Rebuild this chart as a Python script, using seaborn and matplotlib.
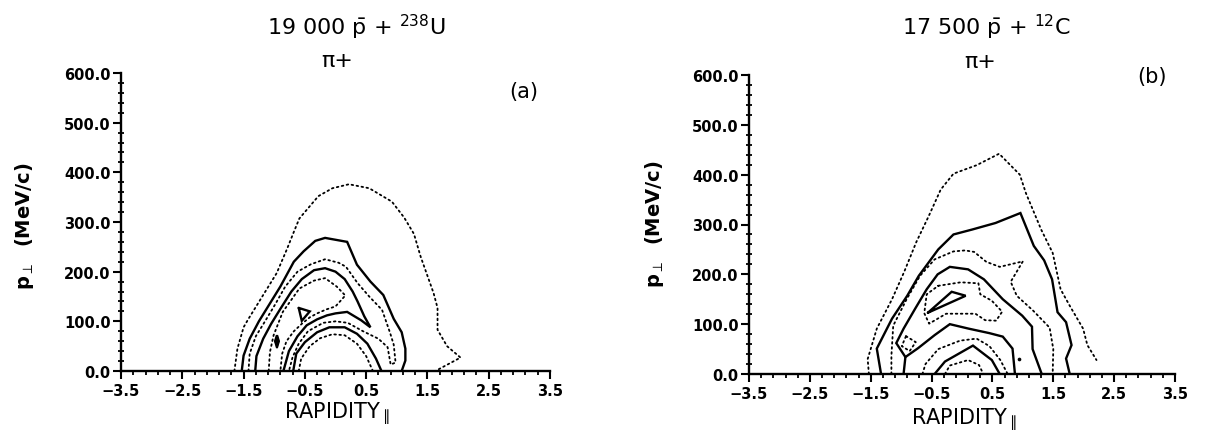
import numpy as np
import matplotlib
matplotlib.use("Agg")
import matplotlib.pyplot as plt
import seaborn as sns
from matplotlib.ticker import FixedLocator, MultipleLocator

# ---------------- data ----------------
x_ticks = [-3.5, -2.5, -1.5, -0.5, 0.5, 1.5, 2.5, 3.5]
x_ticklabels = ["\u22123.5", "\u22122.5", "\u22121.5", "\u22120.5", "0.5", "1.5", "2.5", "3.5"]
y_ticks = [0, 100, 200, 300, 400, 500, 600]
y_ticklabels = ["0.0", "100.0", "200.0", "300.0", "400.0", "500.0", "600.0"]

# panel (a): 19000 pbar + 238U, pi+
a1_x = [-1.65, -1.60, -1.50, -1.43, -1.17, -0.96, -0.79, -0.68, -0.59, -0.28, -0.05, 0.22, 0.55, 0.92, 1.12, 1.28, 1.39, 1.60, 1.665, 1.665, 1.82, 2.04, 1.63]
a1_y = [0, 45, 88, 103, 155, 197, 246, 280, 307, 352, 368, 376, 368, 341, 309, 276, 230, 157, 127, 83, 50, 27, 0]
a2_x = [-1.53, -1.50, -1.40, -1.25, -1.05, -0.90, -0.68, -0.52, -0.33, -0.17, 0.19, 0.35, 0.57, 0.78, 0.95, 1.08, 1.14, 1.14, 1.08]
a2_y = [0, 31, 65, 100, 140, 170, 220, 241, 262, 268, 260, 214, 180, 153, 105, 78, 45, 21, 0]
a3_x = [-1.42, -1.40, -1.30, -1.15, -0.98, -0.82, -0.62, -0.40, -0.17, 0.05, 0.17, 0.36, 0.55, 0.76, 0.89, 0.95, 0.98, 0.90, 0.85, 0.70, 0.45, 0.20, 0.00, -0.20, -0.45, -0.60, -0.70, -0.76]
a3_y = [0, 35, 70, 100, 135, 170, 200, 215, 225, 218, 210, 177, 150, 123, 77, 53, 17, 13, 48, 65, 80, 97, 100, 97, 80, 55, 28, 0]
a4_x = [-1.31, -1.29, -1.18, -1.05, -0.90, -0.72, -0.55, -0.35, -0.17, 0.00, 0.15, 0.28, 0.36, 0.47, 0.57, 0.42, 0.19, 0.00, -0.14, -0.30, -0.47, -0.62, -0.76, -0.85]
a4_y = [0, 30, 65, 95, 125, 160, 185, 203, 207, 200, 185, 160, 140, 110, 88, 102, 119, 116, 112, 104, 92, 70, 40, 0]
a5_x = [-1.09, -1.07, -1.01, -0.86, -0.59, -0.35, -0.17, 0.02, 0.16, 0.00, -0.15, -0.30, -0.42, -0.55, -0.68, -0.80, -0.87, -0.90]
a5_y = [0, 38, 72, 119, 166, 182, 187, 170, 152, 130, 124, 116, 108, 95, 80, 60, 35, 0]
a6_x = [-0.60, -0.42, -0.55, -0.60]
a6_y = [127, 120, 101, 127]
a_diam_x = [-0.955, -0.925, -0.955, -0.985, -0.955]
a_diam_y = [48, 60, 72, 60, 48]
a7_x = [-0.69, -0.64, -0.50, -0.30, -0.10, 0.15, 0.35, 0.52, 0.66, 0.75]
a7_y = [0, 35, 58, 78, 88, 88, 75, 55, 25, 0]
a8_x = [-0.60, -0.56, -0.42, -0.25, -0.05, 0.15, 0.35, 0.50, 0.61]
a8_y = [0, 25, 50, 66, 74, 72, 55, 30, 0]

# panel (b): 17500 pbar + 12C, pi+
b1_x = [-1.53, -1.55, -1.40, -1.15, -0.95, -0.75, -0.55, -0.35, -0.14, 0.24, 0.61, 0.95, 1.05, 1.30, 1.49, 1.62, 1.77, 1.99, 2.06, 2.21]
b1_y = [0, 30, 91, 150, 205, 265, 316, 370, 402, 419, 442, 400, 363, 290, 243, 170, 137, 91, 58, 28]
b2_x = [-1.33, -1.40, -1.15, -0.90, -0.71, -0.39, -0.14, 0.17, 0.55, 0.96, 1.18, 1.35, 1.48, 1.57, 1.71, 1.80, 1.71, 1.77]
b2_y = [0, 51, 111, 157, 197, 250, 280, 290, 303, 323, 257, 228, 190, 124, 104, 58, 31, 0]
b3_x = [-1.16, -1.16, -1.13, -0.91, -0.69, -0.45, -0.14, 0.05, 0.20, 0.40, 0.62, 1.00, 0.80, 0.90, 1.17, 1.44, 1.50, 1.49]
b3_y = [0, 37, 97, 150, 197, 230, 246, 248, 245, 225, 215, 226, 185, 157, 127, 93, 50, 0]
b4_x = [-0.96, -0.93, -1.08, -0.96, -0.77, -0.58, -0.40, -0.20, 0.10, 0.36, 0.67, 0.99, 1.15, 1.16, 1.31]
b4_y = [0, 34, 62, 91, 131, 170, 200, 215, 210, 190, 150, 117, 95, 50, 0]
b5_x = [-0.93, -0.72, -0.45, -0.20, 0.11, 0.45, 0.67, 0.83, 0.87]
b5_y = [34, 52, 78, 100, 91, 82, 75, 51, 0]
b6_x = [-0.39, -0.02, 0.27, 0.30, 0.49, 0.66, 0.56, 0.38, 0.22, -0.26, -0.54, -0.62, -0.58, -0.39]
b6_y = [177, 184, 182, 160, 147, 125, 107, 108, 121, 121, 101, 122, 160, 177]
b7_x = [-0.56, -0.17, 0.06, -0.56]
b7_y = [123, 165, 157, 123]
b8_x = [-0.92, -0.76, -0.86, -0.99, -0.92]
b8_y = [76, 64, 46, 56, 76]
b9_x = [-0.65, -0.60, -0.39, -0.03, 0.24, 0.45, 0.63, 0.75]
b9_y = [0, 20, 50, 67, 71, 56, 28, 0]
b10_x = [-0.45, -0.28, 0.18, 0.49, 0.62]
b10_y = [0, 25, 57, 28, 0]
b11_x = [-0.28, -0.20, 0.10, 0.28, 0.35]
b11_y = [0, 17, 28, 18, 0]
b_dot_x = [0.93]
b_dot_y = [31]

# ---------------- styling ----------------
sns.set_style("ticks")
plt.rcParams['font.family'] = ['DejaVu Sans']
plt.rcParams['axes.unicode_minus'] = True
for k in ("text.color", "axes.labelcolor", "xtick.color", "ytick.color", "axes.edgecolor"):
    plt.rcParams[k] = "black"

W, H = 1206, 439
fig = plt.figure(figsize=(W / 100, H / 100), dpi=100)
fig.patch.set_facecolor("white")


def px(x, y):
    return x / W, 1 - y / H


def axes_from_px(left, right, top, bottom):
    return fig.add_axes([left / W, 1 - bottom / H, (right - left) / W, (bottom - top) / H])


ax_a = axes_from_px(121, 550, 74, 372)
ax_b = axes_from_px(749, 1175, 76, 375)

SOLID = dict(linestyle="-", linewidth=1.7, solid_joinstyle="miter")
DOT = dict(linestyle=(0, (0.9, 1.9)), linewidth=1.3, dash_capstyle="round")

contours_a = [
    (a1_x, a1_y, DOT), (a2_x, a2_y, SOLID), (a3_x, a3_y, DOT), (a4_x, a4_y, SOLID),
    (a5_x, a5_y, DOT), (a6_x, a6_y, SOLID), (a_diam_x, a_diam_y, SOLID),
    (a7_x, a7_y, SOLID), (a8_x, a8_y, DOT),
]
contours_b = [
    (b1_x, b1_y, DOT), (b2_x, b2_y, SOLID), (b3_x, b3_y, DOT), (b4_x, b4_y, SOLID),
    (b5_x, b5_y, SOLID), (b6_x, b6_y, DOT), (b7_x, b7_y, SOLID), (b8_x, b8_y, DOT),
    (b9_x, b9_y, DOT), (b10_x, b10_y, SOLID), (b11_x, b11_y, DOT),
]

for ax, contours in ((ax_a, contours_a), (ax_b, contours_b)):
    for xs, ys, st in contours:
        sns.lineplot(x=xs, y=ys, sort=False, estimator=None, ax=ax, color="black", **st)

ax_a.fill(a_diam_x, a_diam_y, color="black")
sns.scatterplot(x=b_dot_x, y=b_dot_y, s=7, color="black", ax=ax_b, linewidth=0)

for ax in (ax_a, ax_b):
    ax.set_facecolor("white")
    ax.set_xlim(-3.5, 3.5)
    ax.set_ylim(0, 600)
    ax.set_xlabel("")
    ax.set_ylabel("")
    ax.xaxis.set_major_locator(FixedLocator(x_ticks))
    ax.set_xticklabels(x_ticklabels)
    ax.xaxis.set_minor_locator(FixedLocator(np.round(np.arange(-3.5, 3.51, 0.2), 2)))
    ax.yaxis.set_major_locator(FixedLocator(y_ticks))
    ax.set_yticklabels(y_ticklabels)
    ax.yaxis.set_minor_locator(MultipleLocator(20))
    ax.tick_params(axis="x", which="major", direction="out", length=6, width=1.5, pad=3,
                   labelsize=10.5, colors="black")
    ax.tick_params(axis="x", which="minor", direction="out", length=3, width=1.3, colors="black")
    ax.tick_params(axis="y", which="major", direction="out", length=6, width=1.5, pad=1.5,
                   labelsize=10.5, colors="black")
    ax.tick_params(axis="y", which="minor", direction="inout", length=5, width=1.3, colors="black")
    for lab in ax.get_xticklabels() + ax.get_yticklabels():
        lab.set_fontweight("bold")
    sns.despine(ax=ax)
    for s in ("left", "bottom"):
        ax.spines[s].set_linewidth(1.7)
        ax.spines[s].set_color("black")

ylab = r"$\mathbf{p}_{\perp}$  (MeV/c)"
fig.text(*px(25, 226), ylab, rotation=90, ha="center", va="center", fontsize=14, fontweight="bold")
fig.text(*px(654, 224), ylab, rotation=90, ha="center", va="center", fontsize=14, fontweight="bold")

xlab = r"RAPIDITY$_{\parallel}$"
fig.text(*px(337, 414), xlab, ha="center", va="center", fontsize=15)
fig.text(*px(964, 420), xlab, ha="center", va="center", fontsize=15)

fig.text(*px(356, 27), r"19 000 $\bar{\mathrm{p}}$ + $^{238}$U", ha="center", va="center", fontsize=16)
fig.text(*px(337, 61), "\u03c0+", ha="center", va="center", fontsize=16)
fig.text(*px(524, 92), "(a)", ha="center", va="center", fontsize=15)

fig.text(*px(986, 27), r"17 500 $\bar{\mathrm{p}}$ + $^{12}$C", ha="center", va="center", fontsize=16)
fig.text(*px(980, 62), "\u03c0+", ha="center", va="center", fontsize=16)
fig.text(*px(1152, 77), "(b)", ha="center", va="center", fontsize=15)

fig.savefig("out.png", dpi=100, facecolor="white")
